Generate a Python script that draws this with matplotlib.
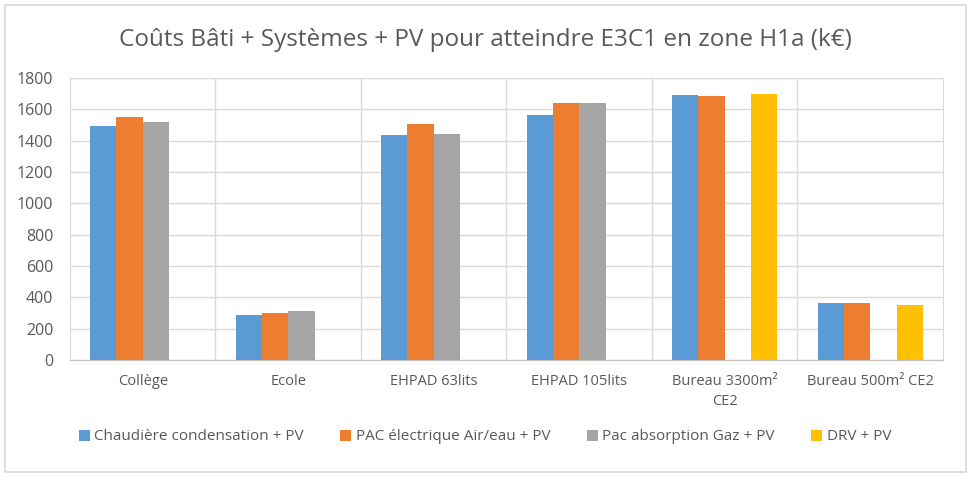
import numpy as np
import matplotlib.pyplot as plt
from matplotlib.patches import Rectangle

plt.rcParams['font.family'] = ['Open Sans', 'DejaVu Sans']

# données (k€)
categories = ['Collège', 'Ecole', 'EHPAD 63lits', 'EHPAD 105lits',
              'Bureau 3300m²\nCE2', 'Bureau 500m² CE2']
series_names = ['Chaudière condensation + PV', 'PAC électrique Air/eau + PV',
                'Pac absorption Gaz + PV', 'DRV + PV']
chaudiere = [1495, 287, 1436, 1561, 1689, 364]
pac_elec = [1549, 300, 1504, 1638, 1682, 364]
pac_gaz = [1519, 313, 1442, 1638, np.nan, np.nan]
drv = [np.nan, np.nan, np.nan, np.nan, 1699, 353]
colors = ['#5b9bd5', '#ed7d31', '#a5a5a5', '#ffc000']

fig = plt.figure(figsize=(9.7, 4.8), dpi=100)
ax = fig.add_axes([70 / 970, 1 - 360 / 480, 873 / 970, 282 / 480])

# cadre du graphique
fig.patches.append(Rectangle((5 / 970, 1 - 472 / 480), 961 / 970, 467 / 480,
                             transform=fig.transFigure, fill=False,
                             edgecolor='#d9d9d9', linewidth=1.2))

x = np.arange(len(categories))
width = 0.181
all_series = [chaudiere, pac_elec, pac_gaz, drv]
for i, (vals, name) in enumerate(zip(all_series, series_names)):
    ax.bar(x + (i - 1.5) * width, vals, width, color=colors[i], label=name, zorder=3)

ax.set_xlim(-0.5, len(categories) - 0.5)
ax.set_ylim(0, 1800)
ax.set_yticks(np.arange(0, 1801, 200))
ax.set_xticks(x)
ax.set_xticklabels(categories, fontsize=10.5, color='#595959', linespacing=1.5)
ax.tick_params(axis='y', labelsize=11.5, colors='#595959', length=0, pad=12)
ax.tick_params(axis='x', length=0, pad=10)

# lignes de grille (horizontales + séparations de catégories)
ax.grid(axis='y', color='#d9d9d9', linewidth=1, zorder=0)
for b in np.arange(0.5, len(categories) - 0.5):
    ax.axvline(b, color='#d9d9d9', linewidth=1, zorder=0)
for side in ['left', 'right', 'top']:
    ax.spines[side].set_color('#d9d9d9')
ax.spines['bottom'].set_color('#bfbfbf')

fig.text(0.5, 1 - 40 / 480, 'Coûts Bâti + Systèmes + PV pour atteindre E3C1 en zone H1a (k€)',
         ha='center', va='center', fontsize=17.5, color='#595959')

fig.legend(loc='center', bbox_to_anchor=(0.5, 1 - 437 / 480), ncol=4, frameon=False,
           fontsize=11, handlelength=0.7, handleheight=0.7, handletextpad=0.3,
           columnspacing=2.4, labelcolor='#595959')

fig.savefig('out.png', dpi=100)
